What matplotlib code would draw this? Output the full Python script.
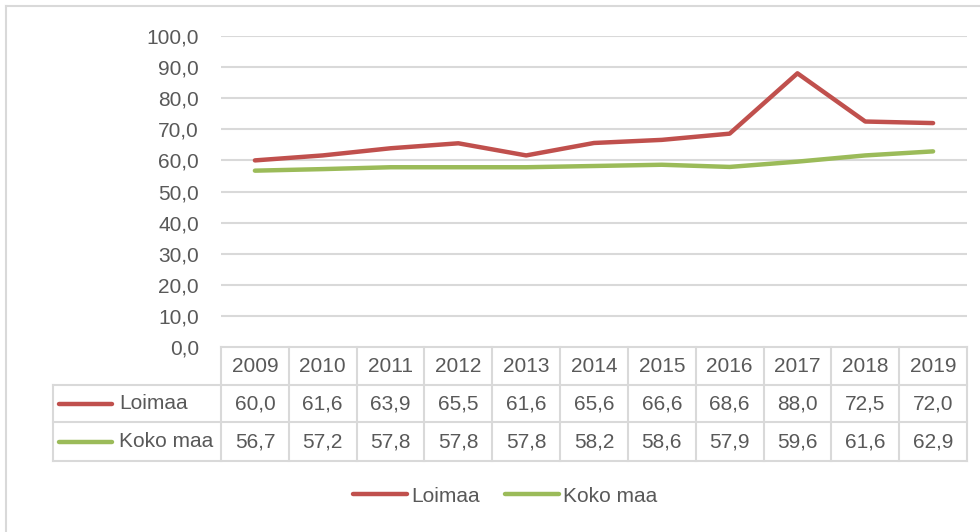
import matplotlib
matplotlib.use("Agg")
import matplotlib.pyplot as plt
from matplotlib.lines import Line2D

years = ["2009", "2010", "2011", "2012", "2013", "2014", "2015", "2016", "2017", "2018", "2019"]
loimaa = [60.0, 61.6, 63.9, 65.5, 61.6, 65.6, 66.6, 68.6, 88.0, 72.5, 72.0]
koko_maa = [56.7, 57.2, 57.8, 57.8, 57.8, 58.2, 58.6, 57.9, 59.6, 61.6, 62.9]
yticks = [0, 10, 20, 30, 40, 50, 60, 70, 80, 90, 100]

C_RED = "#C0504D"
C_GREEN = "#9BBB59"
C_TXT = "#595959"
C_GRID = "#D9D9D9"
FS = 15

plt.rcParams["font.family"] = ["Liberation Sans", "DejaVu Sans"]

W, H = 980, 532
fig = plt.figure(figsize=(W / 100, H / 100), dpi=100)

# plot area in pixels: x 221..967, y 36..347
x0, x1, yt, yb = 221, 967, 36, 347
ax = fig.add_axes([x0 / W, 1 - yb / H, (x1 - x0) / W, (yb - yt) / H])

xs = list(range(len(years)))
ax.plot(xs, loimaa, color=C_RED, lw=3.2, solid_capstyle="round", zorder=3)
ax.plot(xs, koko_maa, color=C_GREEN, lw=3.2, solid_capstyle="round", zorder=3)

ax.set_xlim(-0.5, len(years) - 0.5)
ax.set_ylim(0, 100)
ax.set_yticks(yticks)
ax.set_yticklabels([f"{v:.1f}".replace(".", ",") for v in yticks], fontsize=FS, color=C_TXT)
ax.tick_params(axis="y", length=0, pad=16)
ax.set_xticks([])
for s in ax.spines.values():
    s.set_visible(False)
for v in yticks[1:]:
    ax.axhline(v, color=C_GRID, lw=1.5, zorder=1)

# data table under the axis
ph = yb - yt
rows_px = [0, 38, 75, 114]
ry = [-r / ph for r in rows_px]
n = len(years)
left = -(x0 - 53) / (x1 - x0)
tr = ax.transAxes
lk = dict(color=C_GRID, lw=1.5, transform=tr, clip_on=False)

ax.add_line(Line2D([0, 1], [ry[0], ry[0]], **lk))
for r in ry[1:]:
    ax.add_line(Line2D([left, 1], [r, r], **lk))
for i in range(n + 1):
    ax.add_line(Line2D([i / n, i / n], [ry[0], ry[3]], **lk))
ax.add_line(Line2D([left, left], [ry[1], ry[3]], **lk))

series = [("Loimaa", loimaa, C_RED), ("Koko maa", koko_maa, C_GREEN)]
for i, yr in enumerate(years):
    cx = (i + 0.5) / n
    ax.text(cx, (ry[0] + ry[1]) / 2, yr, ha="center", va="center",
            fontsize=FS, color=C_TXT, transform=tr)
    for k, (name, vals, col) in enumerate(series):
        ax.text(cx, (ry[k + 1] + ry[k + 2]) / 2, f"{vals[i]:.1f}".replace(".", ","),
                ha="center", va="center", fontsize=FS, color=C_TXT, transform=tr)

px = 1 / (x1 - x0)
for k, (name, vals, col) in enumerate(series):
    cy = (ry[k + 1] + ry[k + 2]) / 2
    ax.add_line(Line2D([left + 6 * px, left + 59 * px], [cy, cy], color=col, lw=3.2,
                       solid_capstyle="round", transform=tr, clip_on=False))
    ax.text(left + 66 * px, cy, name, ha="left", va="center", fontsize=FS,
            color=C_TXT, transform=tr)

# legend at the bottom
handles = [Line2D([], [], color=c, lw=3.2, solid_capstyle="round") for _, _, c in series]
fig.legend(handles, [s[0] for s in series], loc="center", ncol=2,
           bbox_to_anchor=(505 / W, 1 - 496 / H), frameon=False, fontsize=FS,
           labelcolor=C_TXT, handlelength=2.6, handletextpad=0.2, columnspacing=1.2)

# chart border (cropped at right and bottom)
fig.add_artist(Line2D([6 / W, 1], [1 - 6 / H, 1 - 6 / H], color=C_GRID, lw=1.5,
                      transform=fig.transFigure))
fig.add_artist(Line2D([6 / W, 6 / W], [0, 1 - 6 / H], color=C_GRID, lw=1.5,
                      transform=fig.transFigure))

fig.savefig("out.png", dpi=100)
